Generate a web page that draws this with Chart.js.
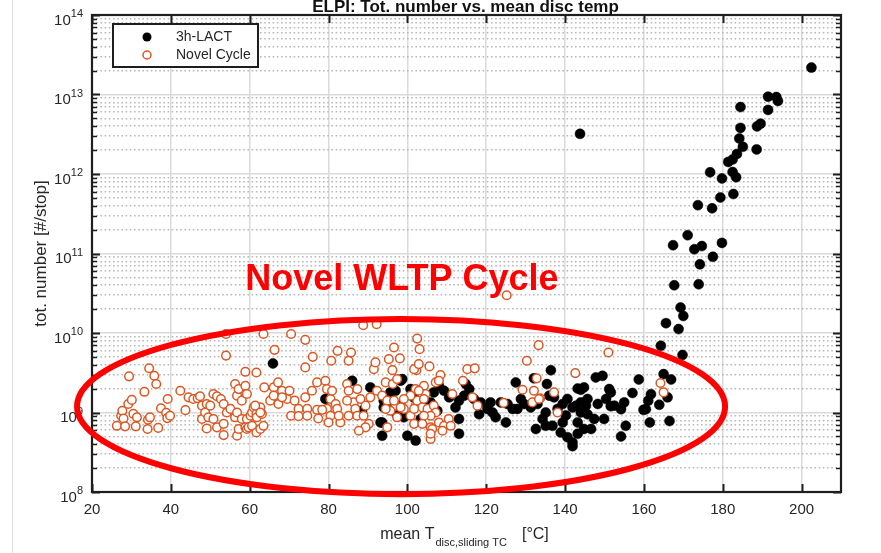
<!DOCTYPE html>
<html>
<head>
<meta charset="utf-8">
<title>ELPI: Tot. number vs. mean disc temp</title>
<script src="https://cdn.jsdelivr.net/npm/chart.js@4.4.1/dist/chart.umd.min.js"></script>
<style>
  html, body { margin: 0; padding: 0; background: #fff; }
  #elpi { display: block; }
</style>
</head>
<body>
<canvas id="elpi" width="881" height="553" style="width:881px;height:553px"></canvas>
<script>
// x tick values (°C) and y decades (10^n)
const tempTicks = [20, 40, 60, 80, 100, 120, 140, 160, 180, 200];
const decades = [8, 9, 10, 11, 12, 13, 14];

// 3h-LACT : [mean disc temp °C, tot. number #/stop]
const lactPoints = [
  [202.5,2.18e13],[143.8,3.2e12],[191.5,9.4e12],[193.6,9.3e12],[194.0,8.3e12],[184.5,6.95e12],
  [191.5,6.4e12],[188.7,3.97e12],[189.6,4.3e12],[184.5,3.8e12],[184.2,2.8e12],[185.1,2.2e12],
  [188.6,2.04e12],[183.6,1.79e12],[182.5,1.52e12],[181.4,1.42e12],[176.8,1.05e12],[182.5,1.06e12],
  [179.8,8.8e11],[183.4,9.1e11],[182.7,5.6e11],[179.4,5.06e11],[173.7,4.05e11],[177.3,3.7e11],
  [171.1,1.7e11],[167.4,1.27e11],[179.8,1.36e11],[172.8,1.13e11],[174.7,1.24e11],[177.5,9.1e10],
  [174.2,7.3e10],[167.7,3.98e10],[173.9,4.1e10],[169.3,2.09e10],[170.0,1.64e10],[165.6,1.33e10],
  [168.8,1.12e10],[164.3,6.9e9],[169.8,5.3e9],[165.0,3.04e9],[166.9,2.6e9],[158.7,2.6e9],
  [166.0,1.55e9],[163.9,1.25e9],[161.8,1.7e9],[161.1,1.41e9],[159.9,1.08e9],[161.5,7.5e8],
  [166.5,7.8e8],[157.1,1.76e9],[155.0,1.34e9],[151.6,1.79e9],[149.5,2.89e9],[147.8,2.76e9],
  [150.4,1.48e9],[152.5,1.22e9],[149.9,8.3e8],[155.4,6.8e8],[154.2,5.0e8],[146.6,6.2e8],
  [144.8,2.07e9],[145.3,1.22e9],[142.8,1.22e9],[148.3,1.28e9],[143.2,7.5e8],[141.9,4.2e8],
  [136.4,3.4e9],[132.1,2.69e9],[127.5,2.39e9],[135.4,2.28e9],[143.2,2.0e9],[144.0,1.93e9],
  [151.2,1.97e9],[160.5,1.1e9],[154.2,1.1e9],[151.6,1.2e9],[145.7,1.48e9],[144.0,1.34e9],
  [140.6,1.48e9],[141.9,1.16e9],[139.4,1.28e9],[137.2,1.55e9],[136.0,1.63e9],[138.1,1.11e9],
  [140.2,9.2e8],[139.4,7.5e8],[144.0,1.0e9],[145.7,9.5e8],[147.4,8.3e8],[144.8,6.2e8],
  [143.2,5.4e8],[140.6,4.9e8],[141.9,3.77e8],[133.0,1.28e9],[131.3,1.16e9],[129.6,1.28e9],
  [128.8,1.48e9],[127.9,1.11e9],[135.1,1.0e9],[134.3,8.3e8],[136.8,6.8e8],[135.1,6.8e8],
  [132.6,6.2e8],[138.9,5.6e8],[123.7,1.34e9],[125.4,1.28e9],[126.7,1.11e9],[121.1,1.34e9],
  [120.3,1.11e9],[118.6,1.34e9],[121.6,1.0e9],[122.4,8.7e8],[125.0,7.5e8],[118.2,9.5e8],
  [116.9,1.48e9],[115.7,1.97e9],[114.8,2.28e9],[114.4,1.63e9],[113.1,1.41e9],[112.2,1.16e9],
  [113.1,8.3e8],[113.1,5.4e8],[110.6,1.55e9],[109.3,1.88e9],[108.0,2.17e9],[106.7,1.79e9],
  [105.9,1.34e9],[107.6,1.05e9],[103.8,1.34e9],[101.6,1.55e9],[100.8,1.97e9],[98.3,2.51e9],
  [97.0,1.88e9],[95.7,1.41e9],[94.0,1.16e9],[93.6,7.5e8],[93.6,5.1e8],[100.0,5.1e8],
  [102.1,4.43e8],[97.4,9.2e8],[103.4,8.3e8],[98.3,1.22e9],[65.9,4.14e9],[79.2,1.48e9],
  [90.6,2.07e9],[86.0,2.5e9],[98.7,2.63e9],[95.7,1.79e9],[94.0,1.41e9],[88.5,1.05e9],
  [93.2,7.5e8],[99.1,8.7e8]
];

// Novel Cycle
const novelPoints = [
  [26.3,6.8e8],[27.4,9.1e8],[27.7,1.05e9],[28.0,8.4e8],[28.4,6.7e8],[29.2,1.28e9],[29.4,2.85e9],
  [30.1,1.44e9],[30.5,9.6e8],[31.1,6.7e8],[31.4,8.7e8],[33.3,1.82e9],[34.1,6.2e8],[34.2,8.1e8],
  [34.5,3.6e9],[34.7,8.7e8],[35.8,2.9e9],[36.3,2.28e9],[36.8,6.4e8],[37.5,1.13e9],[38.8,9.9e8],
  [39.1,8.5e8],[39.2,1.48e9],[39.8,9.1e8],[42.4,1.88e9],[43.7,1.07e9],[44.5,1.55e9],[45.7,1.48e9],
  [46.8,1.51e9],[47.4,1.6e9],[47.9,1.22e9],[47.9,8.3e8],[48.7,1.0e9],[49.1,1.28e9],[49.1,6.3e8],
  [49.5,8.7e8],[50.0,1.22e9],[50.8,1.71e9],[50.8,8.3e8],[51.7,1.6e9],[51.7,6.5e8],[52.7,1.48e9],
  [53.4,1.28e9],[53.4,7.2e8],[53.4,5.2e8],[54.0,9.7e9],[54.0,5.2e9],[54.2,1.0e9],[55.1,1.11e9],
  [56.3,2.28e9],[56.3,8.7e8],[56.8,1.63e9],[56.8,1.0e9],[56.8,5.1e8],[57.2,1.97e9],[57.2,6.2e8],
  [58.0,1.41e9],[58.0,8.3e8],[58.9,2.17e9],[58.9,3.25e9],[58.9,6.5e8],[59.3,1.71e9],[59.3,8.3e8],
  [59.3,6.2e8],[59.7,6.5e8],[60.2,9.1e8],[60.6,6.8e8],[60.6,1.0e9],[61.0,1.16e9],[61.7,9.6e8],
  [61.7,3.19e9],[61.7,5.6e8],[61.8,8.7e8],[62.7,1.16e9],[62.7,6.2e8],[63.1,9.6e8],[63.5,9.7e9],
  [63.5,6.8e8],[63.7,2.07e9],[65.2,1.41e9],[66.1,2.07e9],[66.1,1.63e9],[66.3,6.14e9],[67.2,2.39e9],
  [67.3,1.28e9],[68.2,1.88e9],[69.5,1.48e9],[70.1,1.88e9],[70.5,9.7e9],[70.5,9.1e8],[71.4,1.41e9],
  [72.4,1.11e9],[72.4,9.0e8],[74.1,8.2e9],[74.1,3.69e9],[74.6,1.11e9],[74.6,9.1e8],[75.8,1.88e9],
  [76.0,5.01e9],[77.1,2.39e9],[77.1,1.08e9],[77.4,8.4e8],[79.2,2.51e9],[79.6,1.97e9],[79.6,1.11e9],
  [80.5,1.48e9],[80.7,4.47e9],[81.8,1.28e9],[82.2,1.11e9],[82.3,5.96e9],[83.0,7.5e8],[84.7,2.28e9],
  [85.1,1.88e9],[85.1,4.47e9],[85.1,9.1e8],[85.7,5.69e9],[86.4,1.34e9],[86.8,1.11e9],[87.3,9.1e8],
  [88.8,1.25e10],[91.5,3.51e9],[91.9,4.27e9],[92.2,1.29e10],
  [95.3,4.69e9],[98.1,4.79e9],[102.5,8.5e9],[102.3,3.41e9],[94.5,2.39e9],[96.3,2.28e9],[97.4,2.63e9],
  [92.3,1.88e9],[80.9,1.88e9],[87.3,1.97e9],[88.1,1.48e9],[84.7,1.41e9],[89.4,1.22e9],[90.6,1.55e9],
  [93.6,1.63e9],[94.9,1.41e9],[97.0,1.22e9],[95.7,1.05e9],[97.4,8.7e8],[99.1,1.11e9],[102.1,1.97e9],
  [102.1,1.22e9],[100.8,9.1e8],[101.7,7.2e8],[101.7,3.51e9],[88.9,9.1e8],[90.2,7.2e8],[94.9,6.5e8],
  [89.4,6.5e8],[87.7,5.9e8],[78.4,1.08e9],[80.5,9.1e8],[80.0,7.5e8],[82.6,9.1e8],[68.2,1.55e9],
  [61.4,1.22e9],[62.7,1.0e9],[74.1,1.55e9],
  [125.2,2.98e10],[103.1,6.26e9],[105.6,3.8e9],[108.4,2.96e9],[107.2,2.39e9],[104.2,2.17e9],
  [104.6,1.71e9],[102.5,1.41e9],[103.8,1.16e9],[101.7,1.11e9],[105.1,1.11e9],[106.7,1.22e9],
  [107.2,1.0e9],[105.9,9.1e8],[104.2,9.1e8],[103.8,7.2e8],[105.9,6.5e8],[108.0,7.5e8],[109.3,6.8e8],
  [110.5,8.3e8],[111.0,6.8e8],[105.9,4.65e8],[108.9,5.9e8],[111.4,1.71e9],[115.2,3.51e9],
  [117.1,3.59e9],[114.1,2.51e9],[116.5,1.55e9],[117.8,1.22e9],[124.4,1.32e9],[130.3,4.47e9],
  [133.3,7.03e9],[132.8,2.69e9],[129.2,1.93e9],[132.1,1.88e9],[133.7,1.51e9],[131.7,1.34e9],
  [137.2,1.79e9],[138.1,1.0e9],[142.6,3.13e9],
  [133.4,1.48e9],[151.0,5.69e9],[164.2,2.35e9],[165.0,1.79e9],[106.3,6.2e8],[102.9,4.06e9],
  [96.6,6.58e9],[96.2,3.41e9],[108.0,2.51e9],[102.9,1.88e9],[104.2,1.48e9],[100.8,1.63e9],
  [99.1,1.48e9],[96.6,1.41e9],[98.3,1.16e9],[94.5,1.11e9],[105.9,5.4e8]
];

// red hand-drawn highlight, in data units
const highlight = { xFrom: 16.2, xTo: 180.6, yTop: 1.5e10, yBottom: 9.4e7 };
const highlightLabel = { text: 'Novel WLTP Cycle', x: 98.6, y: 3.47e10 };

const FONT = "'Liberation Sans', Arial, Helvetica, sans-serif";
const ORANGE = 'rgb(217,88,35)';
const isDecade = v => Math.abs(Math.log10(v) - Math.round(Math.log10(v))) < 1e-9;

const yTickValues = [];
decades.forEach(d => {
  if (d === decades[decades.length - 1]) { yTickValues.push(Math.pow(10, d)); return; }
  for (let k = 1; k <= 9; k++) yTickValues.push(k * Math.pow(10, d));
});

const matlabLook = {
  id: 'matlabLook',
  beforeDraw(chart) {
    const ctx = chart.ctx;
    ctx.save();
    ctx.fillStyle = '#fff';
    ctx.fillRect(0, 0, chart.width, chart.height);
    ctx.strokeStyle = '#e2e2e2';
    ctx.lineWidth = 1;
    ctx.beginPath();
    ctx.moveTo(12.5, 0);
    ctx.lineTo(12.5, chart.height);
    ctx.stroke();
    ctx.restore();
  },
  afterDraw(chart) {
    const ctx = chart.ctx;
    const a = chart.chartArea;
    const xs = chart.scales.x, ys = chart.scales.y;
    ctx.save();

    // inward ticks, all four sides
    ctx.strokeStyle = '#1e1e1e';
    ctx.lineWidth = 2;
    ctx.beginPath();
    tempTicks.forEach(v => {
      const p = Math.round(xs.getPixelForValue(v)) + 0.5;
      ctx.moveTo(p, a.bottom); ctx.lineTo(p, a.bottom - 8);
      ctx.moveTo(p, a.top); ctx.lineTo(p, a.top + 8);
    });
    ctx.stroke();
    yTickValues.forEach(v => {
      const p = Math.round(ys.getPixelForValue(v)) + 0.5;
      const len = isDecade(v) ? 8 : 5;
      ctx.lineWidth = isDecade(v) ? 2 : 1.6;
      ctx.beginPath();
      ctx.moveTo(a.left, p); ctx.lineTo(a.left + len, p);
      ctx.moveTo(a.right, p); ctx.lineTo(a.right - len, p);
      ctx.stroke();
    });

    // axes box
    ctx.lineWidth = 2.2;
    ctx.strokeRect(a.left, a.top, a.right - a.left, a.bottom - a.top);

    // y tick labels 10^n
    ctx.fillStyle = '#262626';
    ctx.textBaseline = 'alphabetic';
    decades.forEach(d => {
      const p = ys.getPixelForValue(Math.pow(10, d));
      const exp = String(d);
      ctx.font = '11px ' + FONT;
      const ew = ctx.measureText(exp).width;
      ctx.textAlign = 'right';
      ctx.fillText(exp, a.left - 9, p + 2);
      ctx.font = '15px ' + FONT;
      ctx.fillText('10', a.left - 9 - ew, p + 9.5);
    });

    // title
    ctx.textAlign = 'center';
    ctx.font = 'bold 17px ' + FONT;
    ctx.fillStyle = '#111';
    ctx.fillText('ELPI: Tot. number vs. mean disc temp', (a.left + a.right) / 2 - 1, 11.5);

    // y axis title
    ctx.save();
    ctx.translate(41, (a.top + a.bottom) / 2);
    ctx.rotate(-Math.PI / 2);
    ctx.font = '17px ' + FONT;
    ctx.fillStyle = '#262626';
    ctx.textBaseline = 'middle';
    ctx.fillText('tot. number [#/stop]', 0, 0);
    ctx.restore();

    // x axis title with subscript
    const partA = 'mean T', partB = 'disc,sliding TC', partC = '[°C]';
    ctx.font = '16px ' + FONT;
    const wA = ctx.measureText(partA).width, wC = ctx.measureText(partC).width;
    ctx.font = '11px ' + FONT;
    const wB = ctx.measureText(partB).width;
    const gap = 16;
    let x0 = (a.left + a.right) / 2 - (wA + wB + gap + wC) / 2 - 2;
    ctx.textAlign = 'left';
    ctx.fillStyle = '#262626';
    ctx.font = '16px ' + FONT;
    ctx.fillText(partA, x0, 539);
    ctx.font = '11px ' + FONT;
    ctx.fillText(partB, x0 + wA + 1, 546);
    ctx.font = '16px ' + FONT;
    ctx.fillText(partC, x0 + wA + wB + gap, 539);

    // legend box
    ctx.fillStyle = '#fff';
    ctx.fillRect(113, 24, 145, 43);
    ctx.strokeStyle = '#1e1e1e';
    ctx.lineWidth = 2;
    ctx.strokeRect(113, 24, 145, 43);
    ctx.fillStyle = '#000';
    ctx.beginPath(); ctx.arc(147, 37, 4.5, 0, Math.PI * 2); ctx.fill();
    ctx.strokeStyle = ORANGE; ctx.lineWidth = 1.5;
    ctx.beginPath(); ctx.arc(147, 55, 4, 0, Math.PI * 2); ctx.stroke();
    ctx.fillStyle = '#262626';
    ctx.font = '14px ' + FONT;
    ctx.textBaseline = 'middle';
    ctx.fillText('3h-LACT', 176, 37.5);
    ctx.fillText('Novel Cycle', 176, 55.5);

    // red highlight ellipse and label
    const l = xs.getPixelForValue(highlight.xFrom), r = xs.getPixelForValue(highlight.xTo);
    const t = ys.getPixelForValue(highlight.yTop), b = ys.getPixelForValue(highlight.yBottom);
    ctx.strokeStyle = '#ff0000';
    ctx.lineWidth = 6;
    ctx.beginPath();
    ctx.ellipse((l + r) / 2, (t + b) / 2, (r - l) / 2, (b - t) / 2, 0, 0, Math.PI * 2);
    ctx.stroke();
    ctx.fillStyle = '#ff0000';
    ctx.font = 'bold 36px ' + FONT;
    ctx.textAlign = 'center';
    ctx.textBaseline = 'alphabetic';
    ctx.fillText(highlightLabel.text, xs.getPixelForValue(highlightLabel.x), ys.getPixelForValue(highlightLabel.y));

    ctx.restore();
  }
};

const toXY = pts => pts.map(p => ({ x: p[0], y: p[1] }));

const chart = new Chart(document.getElementById('elpi').getContext('2d'), {
  type: 'scatter',
  data: {
    datasets: [{
      label: '3h-LACT',
      data: toXY(lactPoints),
      backgroundColor: '#000',
      borderColor: '#000',
      borderWidth: 0.5,
      pointRadius: 5,
      order: 1
    }, {
      label: 'Novel Cycle',
      data: toXY(novelPoints),
      backgroundColor: '#fff',
      borderColor: ORANGE,
      borderWidth: 1.5,
      pointRadius: 4.3,
      order: 0
    }]
  },
  options: {
    responsive: false,
    animation: false,
    events: [],
    layout: { padding: { top: 15, right: 40, left: 0, bottom: 0 } },
    plugins: { legend: { display: false }, tooltip: { enabled: false }, title: { display: false } },
    scales: {
      x: {
        type: 'linear',
        min: 20,
        max: 210,
        afterBuildTicks: s => { s.ticks = tempTicks.map(v => ({ value: v })); },
        afterFit: s => { s.height = 61; },
        grid: { color: '#dadada', lineWidth: 1.5, drawTicks: false },
        border: { display: false },
        ticks: {
          autoSkip: false,
          maxRotation: 0,
          padding: 9,
          color: '#262626',
          font: { family: FONT, size: 15 }
        }
      },
      y: {
        type: 'logarithmic',
        min: 1e8,
        max: 1e14,
        afterBuildTicks: s => { s.ticks = yTickValues.map(v => ({ value: v, major: isDecade(v) })); },
        afterFit: s => { s.width = 92; },
        grid: {
          drawTicks: false,
          color: c => isDecade(c.tick.value) ? '#dadada' : '#b8b8b8',
          lineWidth: c => isDecade(c.tick.value) ? 1.6 : 1.4
        },
        border: {
          display: false,
          dash: c => (c.tick && isDecade(c.tick.value)) ? [] : [1.6, 2.6]
        },
        ticks: { display: false }
      }
    }
  },
  plugins: [matlabLook]
});
</script>
</body>
</html>
